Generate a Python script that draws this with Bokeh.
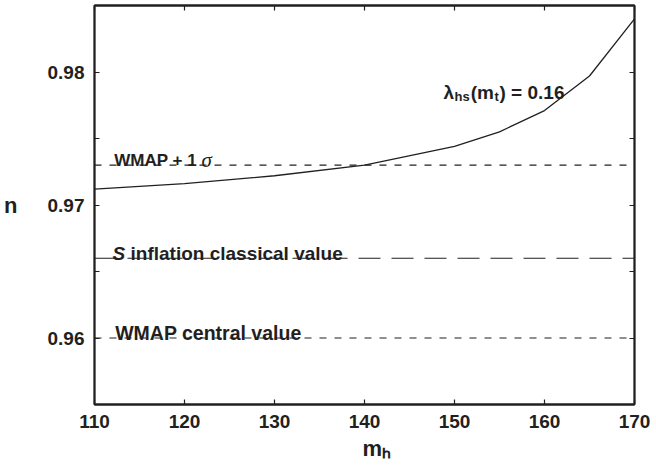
from bokeh.plotting import figure
from bokeh.models import Range1d, LinearAxis, FixedTicker, Label
from bokeh.embed import file_html
from bokeh.resources import INLINE

# Spectral index n versus Higgs mass m_h for lambda_hs(m_t) = 0.16
m_h = [110, 120, 130, 140, 150, 155, 160, 165, 170]
n_curve = [0.9712, 0.9716, 0.9722, 0.9730, 0.9744, 0.9755, 0.9771, 0.9797, 0.9840]

# Reference levels
wmap_plus_sigma = 0.973
s_inflation_classical = 0.966
wmap_central = 0.960

x_ticks = [110, 120, 130, 140, 150, 160, 170]
y_ticks = [0.96, 0.97, 0.98]
y_minor = [0.965, 0.975]

INK = "#231f20"
FONT = "Liberation Sans"

p = figure(width=656, height=469, output_backend="svg", toolbar_location=None,
           x_range=Range1d(110, 170), y_range=Range1d(0.955, 0.985),
           x_axis_location=None, y_axis_location=None,
           min_border_left=94, min_border_right=22, min_border_top=5, min_border_bottom=65)
p.background_fill_color = "white"
p.border_fill_color = "white"
p.xgrid.visible = False
p.ygrid.visible = False
p.outline_line_color = INK
p.outline_line_width = 1.8


def style_axis(ax):
    ax.axis_line_color = INK
    ax.axis_line_width = 1.8
    ax.major_tick_line_color = INK
    ax.minor_tick_line_color = INK
    ax.major_tick_line_width = 1.2
    ax.minor_tick_line_width = 1.2
    ax.major_tick_in = 5
    ax.major_tick_out = 0
    ax.minor_tick_in = 5
    ax.minor_tick_out = 0
    ax.major_label_text_font = FONT
    ax.major_label_text_font_style = "bold"
    ax.major_label_text_font_size = "19px"
    ax.major_label_text_color = INK
    ax.major_label_standoff = 10
    ax.axis_label_text_font = FONT
    ax.axis_label_text_font_style = "bold"
    ax.axis_label_text_font_size = "22px"
    ax.axis_label_text_color = INK


# labelled axes
bottom = LinearAxis(ticker=FixedTicker(ticks=x_ticks), axis_label="\u00a0\u00a0\u00a0\u00a0mₕ")
style_axis(bottom)
bottom.axis_label_standoff = 5
left = LinearAxis(ticker=FixedTicker(ticks=y_ticks, minor_ticks=y_minor), axis_label="n")
style_axis(left)
left.axis_label_orientation = "horizontal"
left.axis_label_standoff = 27

# mirrored tick marks on the top and right edges (minor ticks only, no labels)
top = LinearAxis(ticker=FixedTicker(ticks=[], minor_ticks=x_ticks))
style_axis(top)
right = LinearAxis(ticker=FixedTicker(ticks=[], minor_ticks=y_ticks + y_minor))
style_axis(right)

p.add_layout(bottom, "below")
p.add_layout(top, "above")
p.add_layout(left, "left")
p.add_layout(right, "right")

x_span = [x_ticks[0], x_ticks[-1]]

# reference lines
p.line(x_span, [wmap_plus_sigma] * 2, line_color=INK, line_width=1.1, line_dash="7 8")
p.line(x_span, [s_inflation_classical] * 2, line_color=INK, line_width=1.1, line_dash="22 11")
p.line(x_span, [wmap_central] * 2, line_color=INK, line_width=1.1, line_dash="7 8")

# model curve
p.line(m_h, n_curve, line_color=INK, line_width=1.3)


def lab(x, y, text, size="19px", style="bold", font=FONT):
    p.add_layout(Label(x=x, y=y, text=text, text_font=font, text_font_style=style,
                       text_font_size=size, text_color=INK, text_baseline="alphabetic",
                       text_align="left"))


# annotations on the lines
lab(112.2, 0.97335, "WMAP + 1", size="17px")
lab(121.9, 0.97335, "σ", size="21px", style="italic", font="Liberation Serif")
lab(112.0, 0.96635, "S", style="bold italic")
lab(114.0, 0.96635, "inflation classical value")
lab(112.3, 0.96034, "WMAP central value", size="19.5px")

# curve label: lambda_hs(m_t) = 0.16
lab(148.78, 0.97846, "λ")
lab(150.0, 0.97816, "hs", size="13px")
lab(151.8, 0.97846, "(m")
lab(154.45, 0.97816, "t", size="13px")
lab(155.0, 0.97846, ") = 0.16")

open("out.html", "w").write(file_html(p, INLINE))
